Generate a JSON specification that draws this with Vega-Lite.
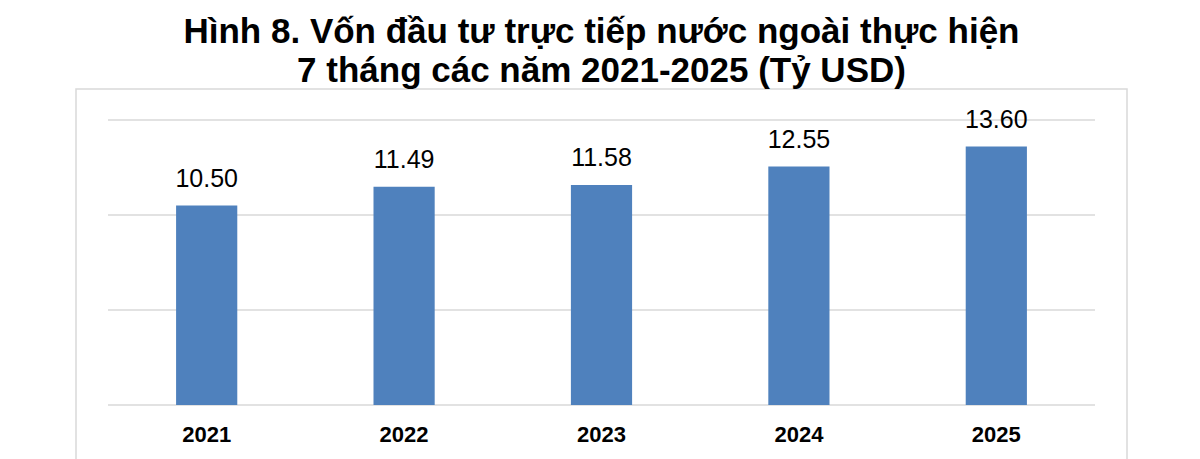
{
  "$schema": "https://vega.github.io/schema/vega-lite/v6.json",
  "description": "Von dau tu truc tiep nuoc ngoai thuc hien 7 thang cac nam 2021-2025",
  "autosize": "none",
  "padding": {"left": 76, "top": 89, "right": 73, "bottom": 0},
  "width": 1051,
  "height": 380,
  "background": "white",
  "title": {
    "text": ["Hình 8. Vốn đầu tư trực tiếp nước ngoài thực hiện", "7 tháng các năm 2021-2025 (Tỷ USD)"],
    "font": "Liberation Sans",
    "fontSize": 35,
    "fontWeight": "bold",
    "color": "black",
    "lineHeight": 39,
    "anchor": "middle",
    "offset": 0
  },
  "config": {"view": {"stroke": "#D9D9D9", "strokeWidth": 1.5}},
  "datasets": {
    "fdi": [
      {"year": "2021", "value": 10.50},
      {"year": "2022", "value": 11.49},
      {"year": "2023", "value": 11.58},
      {"year": "2024", "value": 12.55},
      {"year": "2025", "value": 13.60}
    ],
    "grid": [
      {"year": "2021", "end": "2025", "tick": 0},
      {"year": "2021", "end": "2025", "tick": 5},
      {"year": "2021", "end": "2025", "tick": 10},
      {"year": "2021", "end": "2025", "tick": 15}
    ]
  },
  "layer": [
    {
      "data": {"name": "grid"},
      "mark": {"type": "rule", "color": "#D9D9D9", "strokeWidth": 1.5},
      "encoding": {
        "x": {"field": "year", "type": "nominal", "bandPosition": 0},
        "x2": {"field": "end", "bandPosition": 1},
        "y": {"field": "tick", "type": "quantitative", "axis": null,
              "scale": {"domain": [-3.3684, 16.6316], "nice": false, "zero": false}}
      }
    },
    {
      "data": {"name": "fdi"},
      "mark": {"type": "bar", "color": "#4F81BD", "width": {"band": 0.31}},
      "encoding": {
        "x": {
          "field": "year", "type": "nominal",
          "scale": {"paddingInner": 0, "paddingOuter": 0.162},
          "axis": {
            "title": null, "orient": "bottom", "offset": -64,
            "domain": false, "ticks": false, "tickSize": 0, "grid": false,
            "bandPosition": 0.5,
            "labelAngle": 0, "labelAlign": "center", "labelFont": "Liberation Sans", "labelFontSize": 22,
            "labelFontWeight": "bold", "labelColor": "black",
            "labelBaseline": "alphabetic", "labelPadding": 36
          }
        },
        "y": {"field": "value", "type": "quantitative", "axis": null,
              "scale": {"domain": [-3.3684, 16.6316], "nice": false, "zero": false}}
      }
    },
    {
      "data": {"name": "fdi"},
      "mark": {"type": "text", "font": "Liberation Sans", "fontSize": 25, "color": "black",
               "baseline": "alphabetic", "dy": -19},
      "encoding": {
        "x": {"field": "year", "type": "nominal"},
        "y": {"field": "value", "type": "quantitative", "axis": null,
              "scale": {"domain": [-3.3684, 16.6316], "nice": false, "zero": false}},
        "text": {"field": "value", "type": "quantitative", "format": ".2f"}
      }
    }
  ]
}
